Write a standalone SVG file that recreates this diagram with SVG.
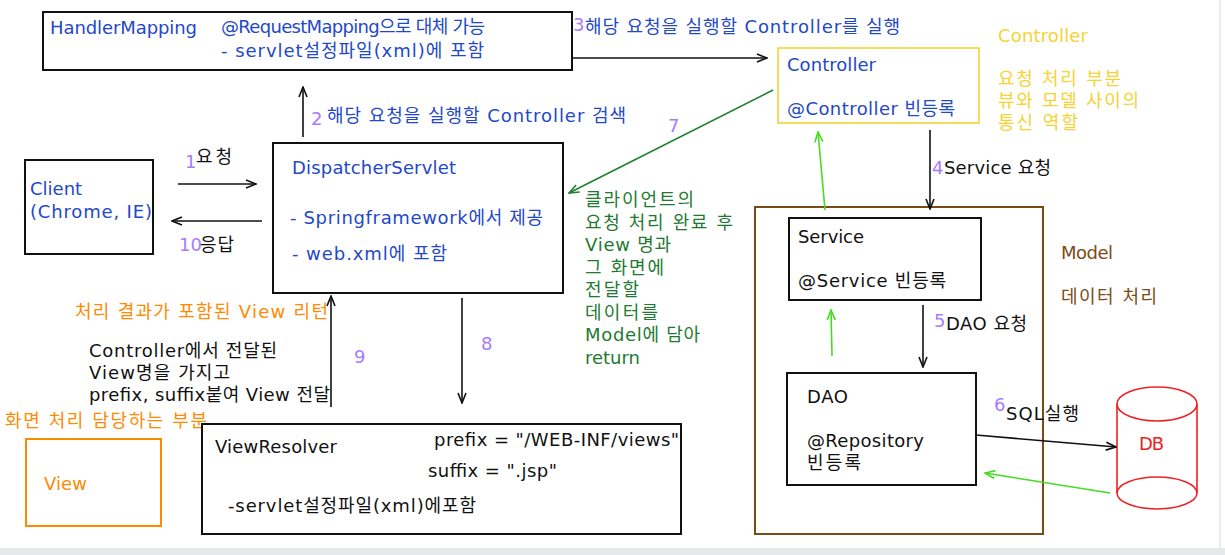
<svg xmlns="http://www.w3.org/2000/svg" width="1225" height="555" viewBox="0 0 1225 555">
<style>
text{font-family:"DejaVu Sans","Noto Sans CJK KR",sans-serif;font-size:18px}
.b{fill:#2348c8}.k{fill:#111}.p{fill:#a77bff}.g{fill:#1e7a30}.o{fill:#ff8a00}.y{fill:#f5d331}.br{fill:#7b4b14}.r{fill:#ee2222}
.box{fill:#fff;stroke:#111;stroke-width:2}
.ln{fill:none;stroke:#111;stroke-width:1.6}
.gl{fill:none;stroke:#44dd22;stroke-width:1.6}
.dg{fill:none;stroke:#1f7f2f;stroke-width:1.6}
</style>
<defs>
<marker id="ak" viewBox="0 0 12 10" refX="11" refY="5" markerWidth="12" markerHeight="10" markerUnits="userSpaceOnUse" orient="auto"><path d="M1,1 L11,5 L1,9" fill="none" stroke="#111" stroke-width="1.6"/></marker>
<marker id="ag" viewBox="0 0 12 10" refX="11" refY="5" markerWidth="12" markerHeight="10" markerUnits="userSpaceOnUse" orient="auto"><path d="M1,1 L11,5 L1,9" fill="none" stroke="#44dd22" stroke-width="1.6"/></marker>
<marker id="adg" viewBox="0 0 12 10" refX="11" refY="5" markerWidth="12" markerHeight="10" markerUnits="userSpaceOnUse" orient="auto"><path d="M1,1 L11,5 L1,9" fill="none" stroke="#1f7f2f" stroke-width="1.6"/></marker>
</defs>
<rect width="1225" height="555" fill="#fff"/>
<rect x="0" y="548" width="1225" height="7" fill="#e6e8ec"/>
<line x1="1220" y1="0" x2="1220" y2="548" stroke="#d8d8d8" stroke-width="1"/>

<g id="handlerMapping">
<rect class="box" x="43" y="12" width="529" height="58"/>
<text class="b" x="50" y="34" textLength="147" lengthAdjust="spacing">HandlerMapping</text>
<text class="b" x="221" y="33" textLength="264" lengthAdjust="spacing">@RequestMapping으로 대체 가능</text>
<text class="b" x="221" y="57" textLength="263" lengthAdjust="spacing">- servlet설정파일(xml)에 포함</text>
</g>

<g id="controller">
<rect x="778" y="48" width="201" height="75" fill="#fff" stroke="#f5d331" stroke-width="1.6"/>
<text class="b" x="787" y="71" textLength="89" lengthAdjust="spacing">Controller</text>
<text class="b" x="787" y="115" textLength="168" lengthAdjust="spacing">@Controller 빈등록</text>
</g>

<g id="controllerNote">
<text class="y" x="998" y="42" textLength="90" lengthAdjust="spacing">Controller</text>
<text class="y" x="998" y="85" textLength="123" lengthAdjust="spacing">요청 처리 부분</text>
<text class="y" x="998" y="107" textLength="141" lengthAdjust="spacing">뷰와 모델 사이의</text>
<text class="y" x="998" y="129" textLength="80" lengthAdjust="spacing">통신 역할</text>
</g>

<g id="client">
<rect class="box" x="25" y="160" width="128" height="94"/>
<text class="b" x="30" y="195">Client</text>
<text class="b" x="30" y="218" textLength="122" lengthAdjust="spacing">(Chrome, IE)</text>
</g>

<g id="dispatcherServlet">
<rect class="box" x="273" y="143" width="290" height="150"/>
<text class="b" x="292" y="174" textLength="164" lengthAdjust="spacing">DispatcherServlet</text>
<text class="b" x="290" y="224" textLength="253" lengthAdjust="spacing">- Springframework에서 제공</text>
<text class="b" x="292" y="260" textLength="155" lengthAdjust="spacing">- web.xml에 포함</text>
</g>

<g id="controllerReturnNote">
<text class="g" x="585" y="206" textLength="109" lengthAdjust="spacing">클라이언트의</text>
<text class="g" x="585" y="229" textLength="148" lengthAdjust="spacing">요청 처리 완료 후</text>
<text class="g" x="585" y="251" textLength="86" lengthAdjust="spacing">View 명과</text>
<text class="g" x="585" y="274" textLength="79" lengthAdjust="spacing">그 화면에</text>
<text class="g" x="585" y="296" textLength="54" lengthAdjust="spacing">전달할</text>
<text class="g" x="585" y="319" textLength="73" lengthAdjust="spacing">데이터를</text>
<text class="g" x="585" y="341" textLength="115" lengthAdjust="spacing">Model에 담아</text>
<text class="g" x="585" y="364" textLength="55" lengthAdjust="spacing">return</text>
</g>

<g id="model">
<rect x="755" y="207" width="288" height="327" fill="none" stroke="#7b4b14" stroke-width="2"/>
<text class="br" x="1061" y="259" textLength="52" lengthAdjust="spacing">Model</text>
<text class="br" x="1061" y="303" textLength="96" lengthAdjust="spacing">데이터 처리</text>
</g>

<g id="service">
<rect class="box" x="789" y="218" width="192" height="82"/>
<text class="k" x="798" y="243" textLength="66" lengthAdjust="spacing">Service</text>
<text class="k" x="798" y="287" textLength="148" lengthAdjust="spacing">@Service 빈등록</text>
</g>

<g id="dao">
<rect class="box" x="787" y="373" width="189" height="112"/>
<text class="k" x="807" y="403" textLength="41" lengthAdjust="spacing">DAO</text>
<text class="k" x="807" y="447" textLength="117" lengthAdjust="spacing">@Repository</text>
<text class="k" x="807" y="469" textLength="54" lengthAdjust="spacing">빈등록</text>
</g>

<g id="db">
<path d="M1117,404 L1117,493 A40,16 0 0 0 1197,493 L1197,404" fill="#fff" stroke="#ee2222" stroke-width="1.6"/>
<ellipse cx="1157" cy="404" rx="40" ry="17" fill="#fff" stroke="#ee2222" stroke-width="1.6"/>
<path d="M1117,493 A40,16 0 0 1 1197,493" fill="none" stroke="#ee2222" stroke-width="1.6"/>
<text class="r" x="1139" y="450" textLength="25" lengthAdjust="spacing">DB</text>
</g>

<g id="viewNotes">
<text class="o" x="75" y="318" textLength="253" lengthAdjust="spacing">처리 결과가 포함된 View 리턴</text>
<text class="k" x="89" y="357" textLength="188" lengthAdjust="spacing">Controller에서 전달된</text>
<text class="k" x="89" y="379" textLength="141" lengthAdjust="spacing">View명을 가지고</text>
<text class="k" x="89" y="401" textLength="241" lengthAdjust="spacing">prefix, suffix붙여 View 전달</text>
<text class="o" x="5" y="427" textLength="202" lengthAdjust="spacing">화면 처리 담당하는 부분</text>
</g>

<g id="view">
<rect x="26" y="439" width="135" height="87" fill="#fff" stroke="#ff8a00" stroke-width="2"/>
<text class="o" x="44" y="490" textLength="43" lengthAdjust="spacing">View</text>
</g>

<g id="viewResolver">
<rect class="box" x="202" y="424" width="479" height="110"/>
<text class="k" x="215" y="453" textLength="122" lengthAdjust="spacing">ViewResolver</text>
<text class="k" x="434" y="446" textLength="245" lengthAdjust="spacing">prefix = "/WEB-INF/views"</text>
<text class="k" x="428" y="477" textLength="129" lengthAdjust="spacing">suffix = ".jsp"</text>
<text class="k" x="228" y="512" textLength="248" lengthAdjust="spacing">-servlet설정파일(xml)에포함</text>
</g>

<g id="connectors">
<line class="ln" x1="178" y1="184" x2="256" y2="184" marker-end="url(#ak)"/>
<line class="ln" x1="262" y1="221" x2="172" y2="221" marker-end="url(#ak)"/>
<line class="ln" x1="303" y1="137" x2="303" y2="87" marker-end="url(#ak)"/>
<line class="ln" x1="573" y1="58" x2="767" y2="58" marker-end="url(#ak)"/>
<line class="ln" x1="930" y1="130" x2="930" y2="209" marker-end="url(#ak)"/>
<line class="ln" x1="923" y1="305" x2="923" y2="367" marker-end="url(#ak)"/>
<line class="ln" x1="976" y1="435" x2="1116" y2="447" marker-end="url(#ak)"/>
<line class="gl" x1="1110" y1="493" x2="985" y2="473" marker-end="url(#ag)"/>
<line class="gl" x1="832" y1="356" x2="831" y2="310" marker-end="url(#ag)"/>
<line class="gl" x1="825" y1="210" x2="818" y2="132" marker-end="url(#ag)"/>
<line class="dg" x1="773" y1="90" x2="569" y2="193" marker-end="url(#adg)"/>
<line class="ln" x1="331" y1="407" x2="331" y2="296" marker-end="url(#ak)"/>
<line class="ln" x1="462" y1="298" x2="462" y2="403" marker-end="url(#ak)"/>
<text class="p" x="185" y="168">1</text><text class="k" x="196" y="163" textLength="36" lengthAdjust="spacing">요청</text>
<text class="p" x="179" y="251">10</text><text class="k" x="200" y="251" textLength="34" lengthAdjust="spacing">응답</text>
<text class="p" x="311" y="125">2</text><text class="b" x="327" y="122" textLength="299" lengthAdjust="spacing">해당 요청을 실행할 Controller 검색</text>
<text class="p" x="573" y="31">3</text><text class="b" x="585" y="33" textLength="315" lengthAdjust="spacing">해당 요청을 실행할 Controller를 실행</text>
<text class="p" x="932" y="174">4</text><text class="k" x="944" y="174" textLength="107" lengthAdjust="spacing">Service 요청</text>
<text class="p" x="934" y="327">5</text><text class="k" x="946" y="330" textLength="81" lengthAdjust="spacing">DAO 요청</text>
<text class="p" x="994" y="411">6</text><text class="k" x="1006" y="420" textLength="73" lengthAdjust="spacing">SQL실행</text>
<text class="p" x="668" y="132">7</text>
<text class="p" x="481" y="350">8</text>
<text class="p" x="354" y="363">9</text>
</g>
</svg>
